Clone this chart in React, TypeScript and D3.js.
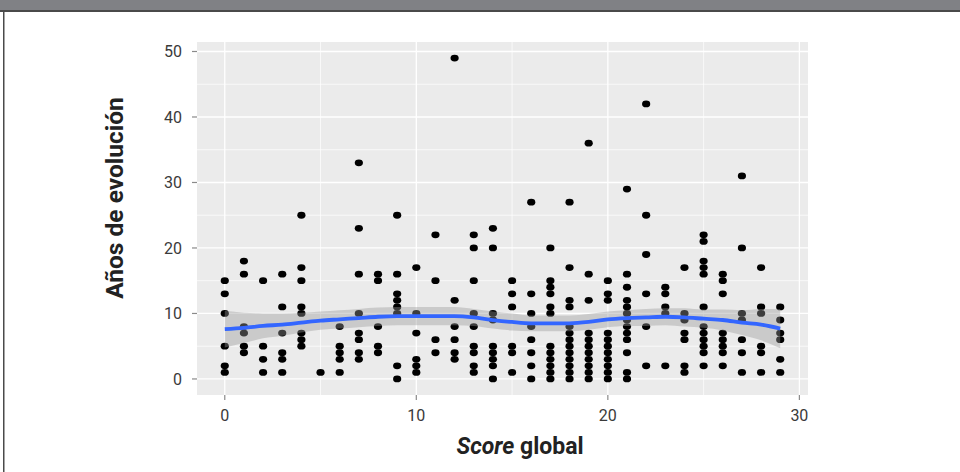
import React from "react";
import * as d3 from "d3";

// Score global (x categories)
const scores = [0, 1, 2, 3, 4, 5, 6, 7, 8, 9, 10, 11, 12, 13, 14, 15, 16, 17, 18, 19, 20, 21, 22, 23, 24, 25, 26, 27, 28, 29];

// Años de evolución observed at each score
const aniosPorScore: number[][] = [
  [15, 13, 10, 5, 2, 1],
  [18, 16, 8, 7, 5, 4],
  [15, 5, 3, 1],
  [16, 11, 7, 4, 3, 1],
  [25, 17, 15, 11, 10, 7, 6, 5],
  [1],
  [8, 5, 4, 3, 1],
  [33, 23, 16, 10, 7, 6, 4, 3],
  [16, 15, 8, 5, 4],
  [25, 16, 13, 12, 11, 10, 2, 0],
  [17, 10, 7, 3, 2, 1],
  [22, 15, 6, 4],
  [49, 12, 8, 6, 4, 3],
  [22, 20, 15, 10, 8, 5, 4, 2, 1],
  [23, 20, 10, 9, 5, 4, 3, 2, 0],
  [15, 13, 11, 5, 4, 1],
  [27, 13, 10, 8, 6, 4, 2, 0],
  [20, 15, 14, 13, 11, 10, 5, 4, 3, 2, 1, 0],
  [27, 17, 12, 11, 8, 7, 6, 5, 4, 3, 2, 1, 0],
  [36, 16, 12, 7, 6, 5, 4, 3, 2, 1, 0],
  [15, 13, 12, 7, 6, 5, 4, 3, 2, 1, 0],
  [29, 16, 14, 12, 11, 10, 9, 8, 7, 6, 4, 1, 0],
  [42, 25, 19, 13, 8, 2],
  [14, 13, 11, 10, 2],
  [17, 10, 9, 7, 6, 2, 1],
  [22, 21, 18, 17, 16, 11, 8, 7, 6, 5, 4, 2],
  [16, 15, 13, 7, 6, 5, 4, 2],
  [31, 20, 10, 9, 6, 4, 1],
  [17, 11, 10, 5, 4, 1],
  [11, 9, 7, 6, 3, 1],
];

// loess smooth
const smoothFit = [7.6, 7.8, 8.1, 8.3, 8.6, 8.9, 9.1, 9.3, 9.5, 9.6, 9.6, 9.6, 9.6, 9.4, 9.0, 8.7, 8.5, 8.5, 8.5, 8.7, 9.1, 9.3, 9.4, 9.5, 9.4, 9.2, 9.0, 8.6, 8.3, 7.7];
const smoothHalfWidth = [2.8, 2.3, 1.9, 1.7, 1.5, 1.4, 1.4, 1.4, 1.4, 1.4, 1.4, 1.4, 1.4, 1.3, 1.3, 1.3, 1.2, 1.2, 1.2, 1.2, 1.2, 1.2, 1.3, 1.3, 1.4, 1.4, 1.6, 1.9, 2.4, 3.0];

const xTicks = [0, 10, 20, 30];
const xMinor = [5, 15, 25];
const yTicks = [0, 10, 20, 30, 40, 50];
const yMinor = [5, 15, 25, 35, 45];

const W = 960;
const H = 472;
const panel = { left: 197, right: 808, top: 42, bottom: 395 };

export default function App() {
  const x = d3.scaleLinear().domain([-1.45, 30.45]).range([panel.left, panel.right]);
  const y = d3.scaleLinear().domain([-2.45, 51.45]).range([panel.bottom, panel.top]);

  const pts: { sx: number; v: number }[] = [];
  scores.forEach((s, i) => aniosPorScore[i].forEach((v) => pts.push({ sx: s, v })));

  const line = d3
    .line<number>()
    .x((_, i) => x(scores[i]))
    .y((d) => y(d))
    .curve(d3.curveMonotoneX);

  const area = d3
    .area<number>()
    .x((_, i) => x(scores[i]))
    .y0((d, i) => y(d - smoothHalfWidth[i]))
    .y1((d, i) => y(d + smoothHalfWidth[i]))
    .curve(d3.curveMonotoneX);

  const tickFont = "Roboto, 'Liberation Sans', sans-serif";

  return (
    <svg width={W} height={H} style={{ position: "absolute", left: 0, top: 0, background: "#fff" }}>
      <rect x={0} y={0} width={W} height={H} fill="#fff" />
      {/* frame */}
      <rect x={0} y={0} width={W} height={10} fill="#808185" />
      <rect x={0} y={10} width={W} height={2} fill="#4a4a4a" />
      <rect x={3} y={10} width={1.5} height={H - 10} fill="#4a4a4a" />

      {/* panel */}
      <rect x={panel.left} y={panel.top} width={panel.right - panel.left} height={panel.bottom - panel.top} fill="#EBEBEB" />
      {yMinor.map((t) => (
        <line key={"ym" + t} x1={panel.left} x2={panel.right} y1={y(t)} y2={y(t)} stroke="#fff" strokeWidth={0.7} />
      ))}
      {xMinor.map((t) => (
        <line key={"xm" + t} y1={panel.top} y2={panel.bottom} x1={x(t)} x2={x(t)} stroke="#fff" strokeWidth={0.7} />
      ))}
      {yTicks.map((t) => (
        <line key={"yM" + t} x1={panel.left} x2={panel.right} y1={y(t)} y2={y(t)} stroke="#fff" strokeWidth={1.3} />
      ))}
      {xTicks.map((t) => (
        <line key={"xM" + t} y1={panel.top} y2={panel.bottom} x1={x(t)} x2={x(t)} stroke="#fff" strokeWidth={1.3} />
      ))}

      {/* points */}
      {pts.map((p, i) => (
        <ellipse key={i} cx={x(p.sx)} cy={y(p.v)} rx={4.1} ry={3.4} fill="#000" />
      ))}

      {/* smooth */}
      <path d={area(smoothFit) || ""} fill="#999999" opacity={0.4} />
      <path d={line(smoothFit) || ""} fill="none" stroke="#3366FF" strokeWidth={3.8} />

      {/* axes ticks */}
      {yTicks.map((t) => (
        <g key={"yt" + t}>
          <line x1={panel.left - 5} x2={panel.left} y1={y(t)} y2={y(t)} stroke="#8a8a8a" strokeWidth={1.2} />
          <text x={182} y={y(t)} dy="0.35em" textAnchor="end" fontFamily={tickFont} fontSize={16} fill="#3a3a3a">
            {t}
          </text>
        </g>
      ))}
      {xTicks.map((t) => (
        <g key={"xt" + t}>
          <line x1={x(t)} x2={x(t)} y1={panel.bottom} y2={panel.bottom + 5} stroke="#8a8a8a" strokeWidth={1.2} />
          <text x={x(t)} y={421} textAnchor="middle" fontFamily={tickFont} fontSize={16} fill="#3a3a3a">
            {t}
          </text>
        </g>
      ))}

      {/* axis titles */}
      <text x={520} y={454} textAnchor="middle" fontFamily="Roboto, sans-serif" fontWeight="bold" fontSize={23} fill="#222">
        <tspan fontStyle="italic">Score</tspan> global
      </text>
      <text
        transform={`translate(114, 198) rotate(-90)`}
        textAnchor="middle"
        dy="0.35em"
        fontFamily="Roboto, sans-serif"
        fontWeight="bold"
        fontSize={24.5}
        fill="#222"
      >
        Años de evolución
      </text>
    </svg>
  );
}
